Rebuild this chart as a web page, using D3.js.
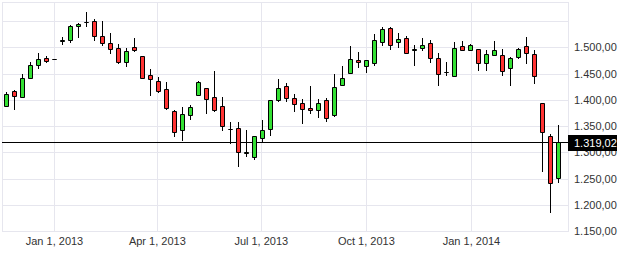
<!DOCTYPE html>
<html>
<head>
<meta charset="utf-8">
<script src="https://cdn.jsdelivr.net/npm/d3@7"></script>
<style>
    html, body { margin: 0; padding: 0; background: #fff; }
    svg { display: block; font-family: "Liberation Sans", Arial, sans-serif; }
</style>
</head>
<body>
<svg id="chart" width="620" height="254"></svg>
<script>
// weekly candles, first one in the week of Nov 20, 2012
const START_DATE = Date.UTC(2012, 10, 20);

const OPEN = [1387.5, 1416.7, 1404.7, 1440.9, 1465.7, 1479.0, 1477.1, 1512.0, 1513.3, 1540.0,
    1547.6, 1549.5, 1520.9, 1507.6, 1498.0, 1471.4, 1500.0, 1482.8, 1446.6, 1435.2,
    1420.0, 1378.0, 1341.8, 1370.4, 1409.7, 1421.9, 1404.7, 1387.5, 1344.3, 1345.6,
    1299.0, 1290.4, 1326.6, 1343.7, 1399.0, 1425.7, 1402.8, 1393.3, 1383.7, 1379.9,
    1399.6, 1370.4, 1427.6, 1450.4, 1475.2, 1463.7, 1469.5, 1509.5, 1536.2, 1509.5,
    1517.1, 1495.4, 1498.0, 1507.6, 1479.0, 1452.3, 1445.8, 1501.9, 1494.2, 1496.1,
    1469.5, 1484.7, 1484.7, 1459.9, 1480.9, 1501.9, 1486.6, 1393.3, 1330.4, 1250.4];

const HIGH = [1414.2, 1418.6, 1449.1, 1471.9, 1489.1, 1482.8, 1477.1, 1519.0, 1541.9, 1545.7,
    1567.2, 1553.3, 1550.0, 1527.2, 1505.7, 1498.0, 1517.7, 1484.0, 1458.6, 1442.8,
    1433.8, 1379.9, 1386.2, 1389.5, 1435.8, 1423.0, 1455.4, 1405.3, 1357.6, 1357.1,
    1342.4, 1330.4, 1361.5, 1399.0, 1439.6, 1431.9, 1410.4, 1401.5, 1426.2, 1401.5,
    1403.4, 1449.1, 1464.3, 1502.4, 1491.0, 1475.2, 1525.3, 1539.2, 1538.6, 1527.8,
    1522.0, 1504.3, 1517.1, 1513.3, 1489.1, 1471.9, 1510.0, 1511.4, 1505.7, 1496.1,
    1494.2, 1511.4, 1496.1, 1480.9, 1498.0, 1519.6, 1494.2, 1393.3, 1334.2, 1351.4];

const LOW = [1387.5, 1381.1, 1404.7, 1440.9, 1459.2, 1469.5, 1477.1, 1504.9, 1508.7, 1518.2,
    1538.0, 1512.5, 1503.0, 1487.8, 1468.7, 1463.0, 1491.6, 1440.9, 1407.7, 1412.3,
    1380.5, 1329.6, 1322.0, 1362.0, 1407.7, 1372.9, 1377.3, 1341.1, 1315.7, 1272.5,
    1291.5, 1285.8, 1319.0, 1331.5, 1396.3, 1396.3, 1377.3, 1354.4, 1373.5, 1365.8,
    1357.1, 1366.6, 1427.6, 1450.4, 1461.1, 1451.6, 1464.9, 1503.0, 1494.8, 1499.2,
    1487.8, 1464.9, 1492.3, 1469.5, 1426.8, 1445.8, 1445.8, 1494.2, 1494.2, 1455.4,
    1455.4, 1484.7, 1445.8, 1426.8, 1477.1, 1468.7, 1430.6, 1263.0, 1183.7, 1242.0];

const CLOSE = [1411.6, 1406.6, 1440.9, 1465.7, 1477.1, 1474.4, 1477.1, 1514.0, 1540.0, 1544.3,
    1547.6, 1521.5, 1507.6, 1496.1, 1472.5, 1492.3, 1494.2, 1440.9, 1439.0, 1416.7,
    1384.3, 1338.0, 1372.3, 1385.6, 1433.8, 1400.9, 1379.9, 1349.5, 1344.3, 1299.9,
    1301.0, 1330.4, 1341.8, 1399.0, 1421.9, 1402.8, 1391.4, 1381.8, 1379.9, 1393.3,
    1364.7, 1423.8, 1440.9, 1477.1, 1471.4, 1475.2, 1513.3, 1534.3, 1503.8, 1515.8,
    1489.7, 1497.4, 1503.8, 1479.0, 1448.5, 1452.3, 1498.0, 1494.2, 1503.8, 1469.5,
    1486.6, 1494.2, 1454.2, 1479.0, 1496.1, 1488.6, 1444.7, 1339.2, 1240.9, 1319.02];

const X_TICKS = [Date.UTC(2013, 0, 1), Date.UTC(2013, 3, 1), Date.UTC(2013, 6, 1),
    Date.UTC(2013, 9, 1), Date.UTC(2014, 0, 1)];
const Y_GRID = [1150, 1200, 1250, 1300, 1350, 1400, 1450, 1500, 1550];
const Y_LABELS = [1150, 1200, 1250, 1300, 1350, 1400, 1450, 1500];
const LAST_PRICE = 1319.02;

const UP_COLOR = "#33e033";
const DOWN_COLOR = "#ff3333";
const GRID_COLOR = "#e6e6ee";

class CandleChart {
    constructor(svgId) {
        this.svg = d3.select("#" + svgId);
        this.left = 2;
        this.right = 568;
        this.top = 2;
        this.bottom = 231;

        this.x = d3.scaleUtc()
            .domain([new Date(X_TICKS[0]), new Date(X_TICKS[4])])
            .range([54, 471]);
        this.y = d3.scaleLinear()
            .domain([1150, 1550])
            .range([231, 21]);

        this.numFormat = d3.formatLocale({
            decimal: ",", thousands: ".", grouping: [3], currency: ["", ""]
        }).format(",.2f");
    }

    candles() {
        return OPEN.map((o, i) => ({
            date: new Date(START_DATE + i * 7 * 864e5),
            open: o, high: HIGH[i], low: LOW[i], close: CLOSE[i]
        }));
    }

    crisp(v) {
        return Math.round(v) + 0.5;
    }

    drawGrid() {
        const g = this.svg.append("g");
        g.selectAll(".hgrid")
            .data(Y_GRID)
            .enter().append("line")
            .attr("x1", this.left).attr("x2", this.right)
            .attr("y1", d => this.crisp(this.y(d)))
            .attr("y2", d => this.crisp(this.y(d)))
            .attr("stroke", GRID_COLOR);

        g.selectAll(".vgrid")
            .data(X_TICKS)
            .enter().append("line")
            .attr("x1", d => this.crisp(this.x(new Date(d))))
            .attr("x2", d => this.crisp(this.x(new Date(d))))
            .attr("y1", this.top).attr("y2", this.bottom)
            .attr("stroke", GRID_COLOR);

        g.append("rect")
            .attr("x", this.left + 0.5).attr("y", this.top + 0.5)
            .attr("width", this.right - this.left).attr("height", this.bottom - this.top)
            .attr("fill", "none")
            .attr("stroke", GRID_COLOR);
    }

    drawAxes() {
        const yAxis = d3.axisRight(this.y)
            .tickValues(Y_LABELS)
            .tickSize(0)
            .tickPadding(6)
            .tickFormat(this.numFormat);
        const yg = this.svg.append("g")
            .attr("transform", `translate(${this.right},0)`)
            .call(yAxis);
        yg.select(".domain").remove();
        yg.selectAll("text").attr("fill", "#333").attr("font-size", 11);

        const xAxis = d3.axisBottom(this.x)
            .tickValues(X_TICKS.map(d => new Date(d)))
            .tickSize(0)
            .tickPadding(6)
            .tickFormat(d3.utcFormat("%b %-d, %Y"));
        const xg = this.svg.append("g")
            .attr("transform", `translate(0,${this.bottom})`)
            .call(xAxis);
        xg.select(".domain").remove();
        xg.selectAll("text").attr("fill", "#333").attr("font-size", 11);
        this.svg.selectAll(".tick").attr("font-family", null);
    }

    drawPriceLine() {
        const py = this.crisp(this.y(LAST_PRICE));
        this.svg.append("line")
            .attr("x1", this.left).attr("x2", this.right)
            .attr("y1", py).attr("y2", py)
            .attr("stroke", "#000");
    }

    drawCandles() {
        const data = this.candles();
        const g = this.svg.append("g");

        g.selectAll(".wick")
            .data(data)
            .enter().append("line")
            .attr("x1", d => this.crisp(this.x(d.date)))
            .attr("x2", d => this.crisp(this.x(d.date)))
            .attr("y1", d => Math.round(this.y(d.high)))
            .attr("y2", d => Math.round(this.y(d.low)))
            .attr("stroke", "#000");

        g.selectAll(".body")
            .data(data)
            .enter().append("path")
            .attr("d", d => {
                const cx = this.crisp(this.x(d.date));
                const y0 = this.crisp(this.y(Math.max(d.open, d.close)));
                const y1 = this.crisp(this.y(Math.min(d.open, d.close)));
                return `M${cx - 2},${y0}H${cx + 2}V${y1}H${cx - 2}Z`;
            })
            .attr("fill", d => d.close >= d.open ? UP_COLOR : DOWN_COLOR)
            .attr("stroke", "#000")
            .attr("stroke-width", 1);
    }

    drawPriceLabel() {
        const py = this.y(LAST_PRICE);
        this.svg.append("rect")
            .attr("x", this.right).attr("y", Math.round(py) - 7)
            .attr("width", 49).attr("height", 16)
            .attr("fill", "#000");
        this.svg.append("text")
            .attr("x", this.right + 6)
            .attr("y", Math.round(py) + 1)
            .attr("dy", "0.32em")
            .attr("fill", "#fff")
            .attr("font-size", 11)
            .text(this.numFormat(LAST_PRICE));
    }

    render() {
        this.drawGrid();
        this.drawAxes();
        this.drawPriceLine();
        this.drawCandles();
        this.drawPriceLabel();
    }
}

new CandleChart("chart").render();
</script>
</body>
</html>
